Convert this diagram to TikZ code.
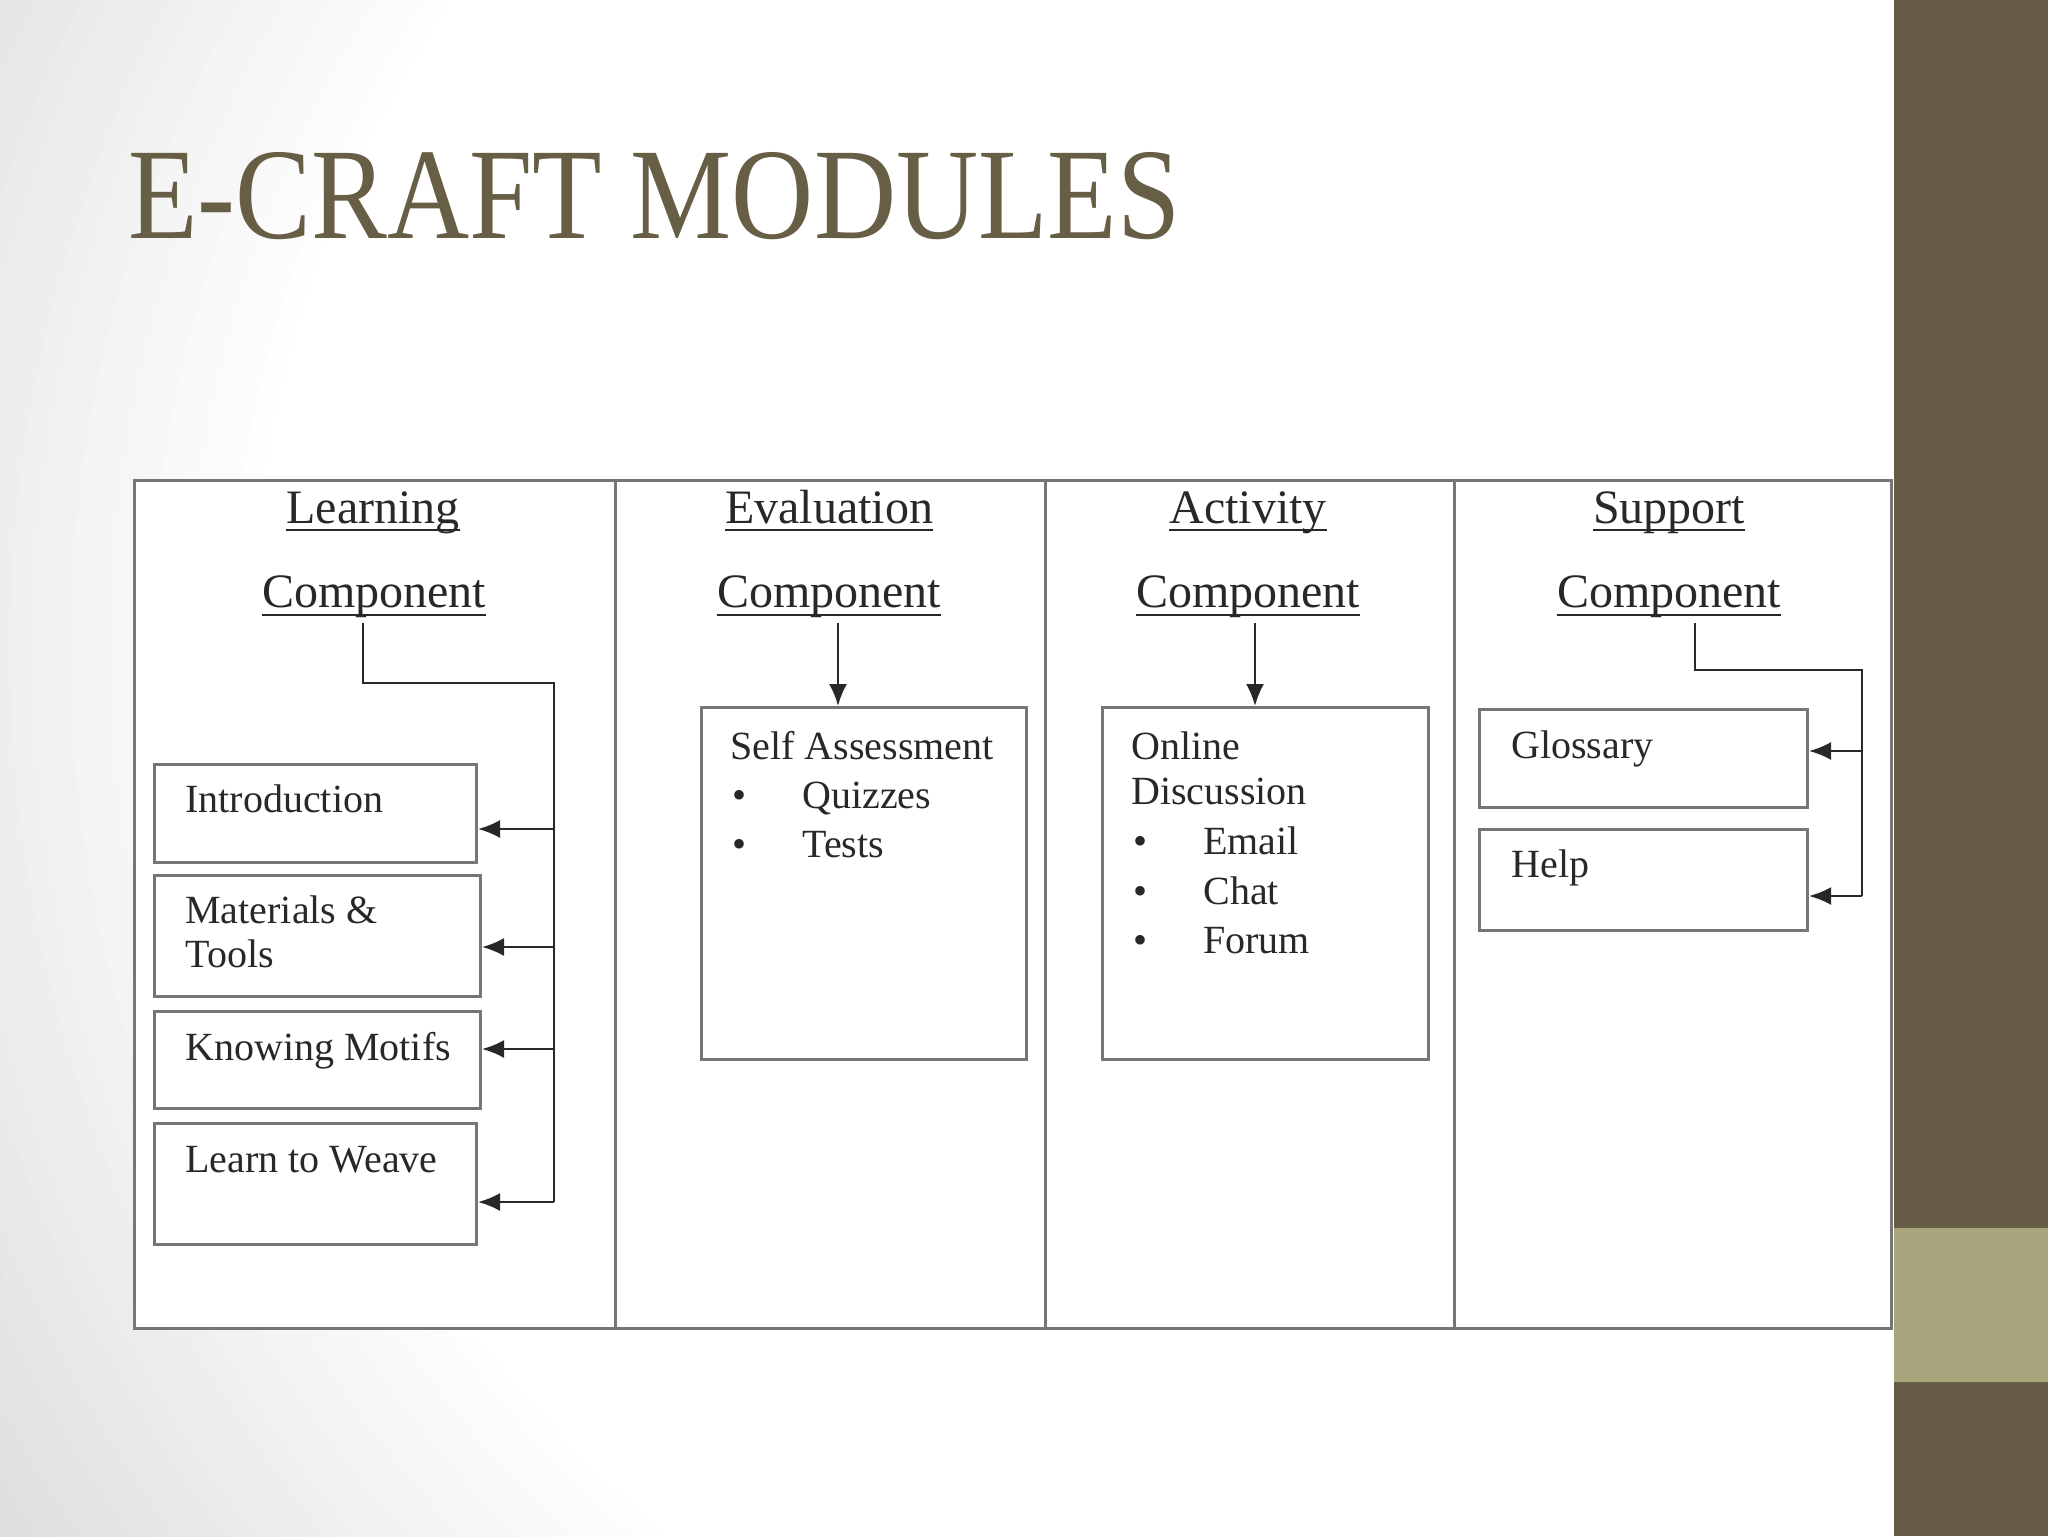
\documentclass[tikz,border=0pt]{standalone}
\usepackage{fontspec}
\setmainfont{Liberation Serif}
\usetikzlibrary{arrows.meta}
\definecolor{titlecol}{RGB}{103,94,70}
\definecolor{bardark}{RGB}{103,93,70}
\definecolor{barlight}{RGB}{168,165,125}
\definecolor{framecol}{RGB}{118,118,118}
\definecolor{inkcol}{RGB}{40,40,40}
\tikzset{
  frame/.style={draw=framecol, line width=1.5pt},
  hdr/.style={font=\fontsize{24}{28}\selectfont, text=inkcol, inner sep=0pt, anchor=base},
  uline/.style={draw=inkcol, line width=0.9pt},
  boxnode/.style={draw=framecol, line width=1.5pt, fill=white, inner sep=0pt, anchor=north west},
  txt/.style={font=\fontsize{20}{24}\selectfont, text=inkcol, inner sep=0pt, anchor=base west},
  conn/.style={draw=inkcol, line width=1.2pt},
  arr/.style={conn, -{Latex[length=11pt,width=9pt]}},
}
\begin{document}
\begin{tikzpicture}[x=0.5pt,y=-0.5pt]
\useasboundingbox (0,0) rectangle (2048,1536);
% background
\begin{scope}
\clip (0,0) rectangle (1894,1536);
\fill[black!15] (0,0) rectangle (1894,1536);
\foreach \i in {0,...,30}{
  \pgfmathsetmacro{\rr}{1750-\i*20}
  \pgfmathsetmacro{\gg}{15*(1-\i/30)}
  \fill[black!\gg] (1400,650) circle (\rr);
}
\end{scope}
\fill[bardark] (1894,0) rectangle (2048,1536);
\fill[barlight] (1894,1228) rectangle (2048,1382);
% title
\node[anchor=base west, inner sep=0pt, text=titlecol, font=\fontsize{65}{70}\selectfont] (title) at (128,238) {\scalebox{0.875}[1]{E-CRAFT MODULES}};
% table
\draw[frame, fill=white] (134,480) rectangle (1891,1328);
\draw[frame] (615,480) -- (615,1328);
\draw[frame] (1045,480) -- (1045,1328);
\draw[frame] (1454,480) -- (1454,1328);
% headers
\node[hdr] (h1a) at (373,523) {Learning};
\node[hdr] (h1b) at (374,607) {Component};
\node[hdr] (h2a) at (829,523) {Evaluation};
\node[hdr] (h2b) at (829,607) {Component};
\node[hdr] (h3a) at (1248,523) {Activity};
\node[hdr] (h3b) at (1248,607) {Component};
\node[hdr] (h4a) at (1669,523) {Support};
\node[hdr] (h4b) at (1669,607) {Component};
\foreach \n in {h1a,h2a,h3a,h4a}{
  \draw[uline] ([yshift=-3.5pt]\n.base west) -- ([yshift=-3.5pt]\n.base east);
}
\foreach \n in {h1b,h2b,h3b,h4b}{
  \draw[uline] ([yshift=-4pt]\n.base west) -- ([yshift=-4pt]\n.base east);
}
% learning boxes
\node[boxnode, minimum width=161pt, minimum height=49pt] (li) at (153,763) {};
\node[boxnode, minimum width=163pt, minimum height=60.5pt] (lm) at (153,874) {};
\node[boxnode, minimum width=163pt, minimum height=48.5pt] (lk) at (153,1010) {};
\node[boxnode, minimum width=161pt, minimum height=60.5pt] (lw) at (153,1122) {};
\node[txt] (tli) at (185,812) {Introduction};
\node[txt] (tlm1) at (185,923) {Materials \&};
\node[txt] (tlm2) at (185,967) {Tools};
\node[txt] (tlk) at (185,1060) {Knowing Motifs};
\node[txt] (tlw) at (185,1172) {Learn to Weave};
\coordinate (ls) at (363,623);
\coordinate (lc) at (363,683);
\coordinate (lr) at (554,683);
\coordinate (l1) at (554,829);
\coordinate (l2) at (554,947);
\coordinate (l3) at (554,1049);
\coordinate (l4) at (554,1202);
\draw[conn] (ls) -- (lc) -- (lr) -- (l4);
\draw[arr] (l1) -- (li.east |- l1);
\draw[arr] (l2) -- (lm.east |- l2);
\draw[arr] (l3) -- (lk.east |- l3);
\draw[arr] (l4) -- (lw.east |- l4);
% evaluation
\node[boxnode, minimum width=162.5pt, minimum height=176pt] (ev) at (700,706) {};
\coordinate (es) at (838,623);
\draw[arr] (es) -- (es |- ev.north);
\node[txt] (te1) at (730,759) {Self Assessment};
\node[txt] (te2b) at (732,808) {•};
\node[txt] (te2) at (802,808) {Quizzes};
\node[txt] (te3b) at (732,857) {•};
\node[txt] (te3) at (802,857) {Tests};
% activity
\node[boxnode, minimum width=163pt, minimum height=176pt] (ac) at (1101,706) {};
\coordinate (as) at (1255,623);
\draw[arr] (as) -- (as |- ac.north);
\node[txt] (ta1) at (1131,759) {Online};
\node[txt] (ta2) at (1131,804) {Discussion};
\node[txt] (ta3b) at (1133,854) {•};
\node[txt] (ta3) at (1203,854) {Email};
\node[txt] (ta4b) at (1133,904) {•};
\node[txt] (ta4) at (1203,904) {Chat};
\node[txt] (ta5b) at (1133,953) {•};
\node[txt] (ta5) at (1203,953) {Forum};
% support
\node[boxnode, minimum width=164pt, minimum height=49pt] (sg) at (1478,708) {};
\node[boxnode, minimum width=164pt, minimum height=50.5pt] (sh) at (1478,828) {};
\node[txt] (tsg) at (1511,758) {Glossary};
\node[txt] (tsh) at (1511,877) {Help};
\coordinate (ss) at (1695,623);
\coordinate (sc) at (1695,670);
\coordinate (sr) at (1862,670);
\coordinate (s1) at (1862,751);
\coordinate (s2) at (1862,896);
\draw[conn] (ss) -- (sc) -- (sr) -- (s2);
\draw[arr] (s1) -- (sg.east |- s1);
\draw[arr] (s2) -- (sh.east |- s2);
\end{tikzpicture}
\end{document}
